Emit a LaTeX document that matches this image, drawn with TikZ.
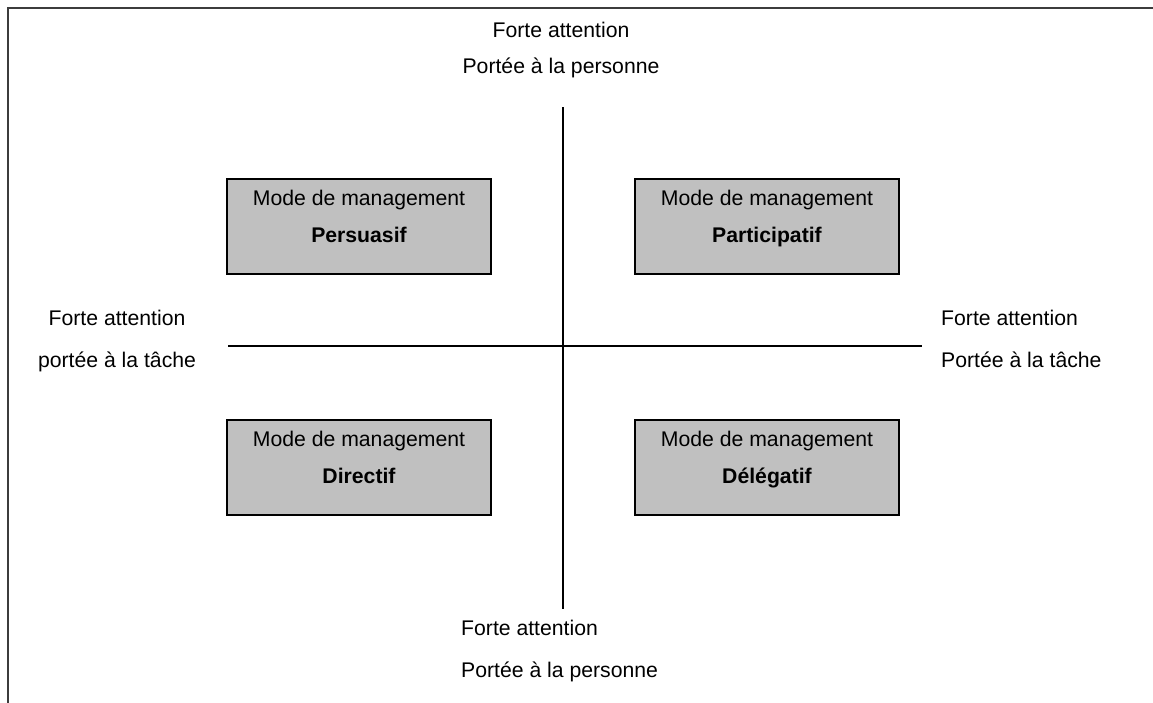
\documentclass[tikz,border=0pt]{standalone}
\usepackage{fontspec}
\setmainfont{Liberation Sans}
\usetikzlibrary{calc}
\definecolor{boxgray}{RGB}{192,192,192}
\definecolor{framegray}{RGB}{60,60,60}
\begin{document}
\begin{tikzpicture}[x=1pt,y=-1pt,
  every node/.style={font=\fontsize{21.2}{25}\selectfont, inner sep=0pt},
  modebox/.style={draw=black, line width=2pt, fill=boxgray,
    minimum width=264pt, minimum height=95pt, anchor=north west},
  axis/.style={draw=black, line width=2.3pt},
  frameline/.style={draw=framegray, line width=2.8pt},
  lbl/.style={anchor=base}
]
\useasboundingbox (0,0) rectangle (1153,702);

% outer frame (top and left sides)
\coordinate (fbl) at (8,704);
\coordinate (ftl) at (8,8);
\coordinate (ftr) at (1155,8);
\draw[frameline] (fbl) -- (ftl) -- (ftr);

% axes
\coordinate (vtop) at (563,107);
\coordinate (vbot) at (563,609);
\coordinate (hleft) at (228,346);
\coordinate (hright) at (922,346);
\draw[axis] (vtop) -- (vbot);
\draw[axis] (hleft) -- (hright);

% quadrant boxes
\node[modebox] (pers) at (226,178) {};
\node[modebox] (part) at (634,178) {};
\node[modebox] (dir)  at (226,419) {};
\node[modebox] (del)  at (634,419) {};

\foreach \b/\t in {pers/Persuasif, part/Participatif, dir/Directif, del/Délégatif}{
  \node[lbl] (\b-a) at ($(\b.north)+(0,27)$) {Mode de management};
  \node[lbl] (\b-b) at ($(\b.north)+(0,64)$) {\bfseries \t};
}

% axis captions
\node[lbl] (top1) at (561,37) {Forte attention};
\node[lbl] (top2) at (561,73) {Portée à la personne};

\node[lbl] (left1) at (117,325) {Forte attention};
\node[lbl] (left2) at (117,367) {portée à la tâche};

\node[anchor=base west] (right1) at (941,325) {Forte attention};
\node[anchor=base west] (right2) at (941,367) {Portée à la tâche};

\node[anchor=base west] (bot1) at (461,635) {Forte attention};
\node[anchor=base west] (bot2) at (461,677) {Portée à la personne};
\end{tikzpicture}
\end{document}
